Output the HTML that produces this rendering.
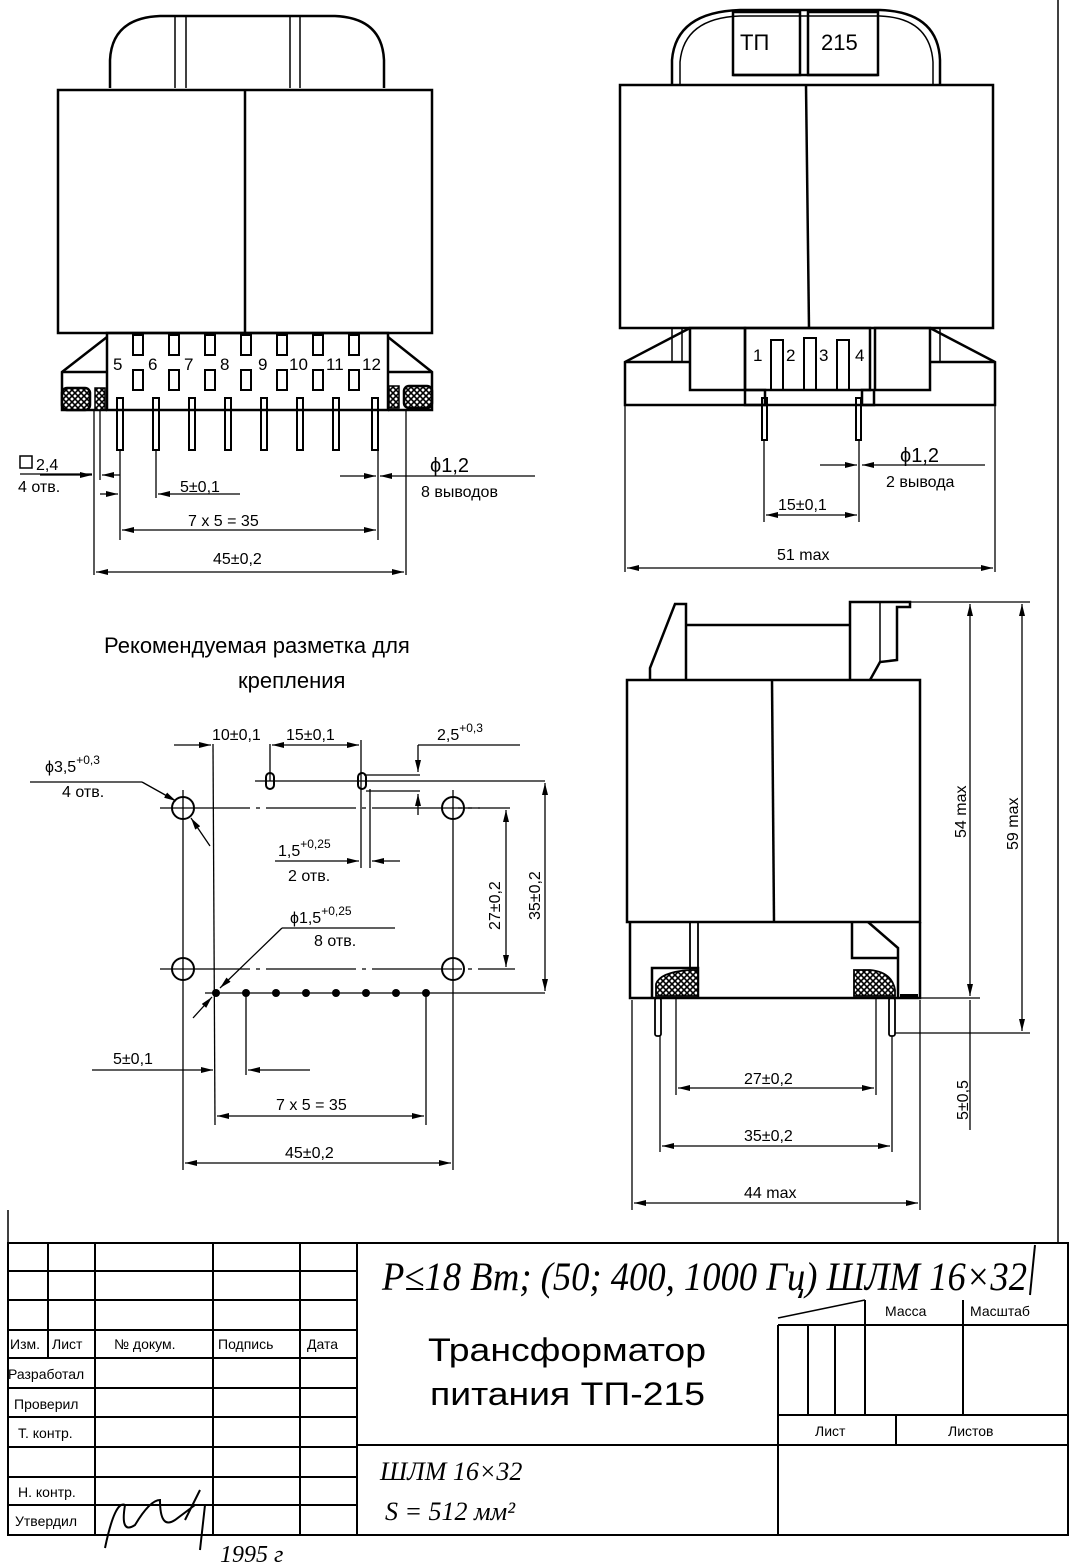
<!DOCTYPE html>
<html><head><meta charset="utf-8"><style>
html,body{margin:0;padding:0;background:#fff}
svg{display:block}
text{font-family:"Liberation Sans","DejaVu Sans",sans-serif;fill:#000}
.h{font-family:"Liberation Serif",serif;font-style:italic}
</style></head><body>
<svg width="1072" height="1568" viewBox="0 0 1072 1568" xmlns="http://www.w3.org/2000/svg">
<defs>
<marker id="a" viewBox="0 0 12 6" refX="12" refY="3" markerWidth="12" markerHeight="6" orient="auto-start-reverse" markerUnits="userSpaceOnUse"><path d="M0,0L12,3L0,6z" fill="#000"/></marker>
<pattern id="x" width="6" height="6" patternUnits="userSpaceOnUse"><rect width="6" height="6" fill="#fff"/><path d="M0,0L6,6M6,0L0,6" stroke="#000" stroke-width="1.6"/></pattern>
</defs>
<g fill="none" stroke="#000" stroke-width="2.5">
<line x1="1058" y1="0" x2="1058" y2="1243" stroke-width="1.5"/>
<line x1="8" y1="1210" x2="8" y2="1243" stroke-width="1.5"/>

<path d="M110,88 L110,60 Q112,18 160,16 L335,16 Q382,18 384,60 L384,88"/>
<line x1="175" y1="16" x2="175" y2="88" stroke-width="1.5"/><line x1="186" y1="16" x2="186" y2="88" stroke-width="1.5"/>
<line x1="290" y1="16" x2="290" y2="88" stroke-width="1.5"/><line x1="300" y1="16" x2="300" y2="88" stroke-width="1.5"/>
<rect x="58" y="90" width="374" height="243"/>
<line x1="245" y1="90" x2="245" y2="333"/>
<rect x="107" y="333" width="281" height="77"/>
<path d="M107,337 L62,372 L62,410 L107,410"/><line x1="62" y1="372" x2="107" y2="372"/>
<path d="M388,337 L432,372 L432,410 L388,410"/><line x1="388" y1="372" x2="432" y2="372"/>
<rect x="62" y="388" width="28" height="22" fill="url(#x)" rx="5"/>
<rect x="404" y="386" width="28" height="22" fill="url(#x)" rx="5"/>
<rect x="95" y="388" width="10" height="22" fill="url(#x)" stroke-width="1.5"/>
<rect x="389" y="386" width="10" height="22" fill="url(#x)" stroke-width="1.5"/>
<g stroke-width="2">
<rect x="133" y="335" width="10" height="20"/><rect x="169" y="335" width="10" height="20"/><rect x="205" y="335" width="10" height="20"/><rect x="241" y="335" width="10" height="20"/><rect x="277" y="335" width="10" height="20"/><rect x="313" y="335" width="10" height="20"/><rect x="349" y="335" width="10" height="20"/>
<rect x="133" y="370" width="10" height="20"/><rect x="169" y="370" width="10" height="20"/><rect x="205" y="370" width="10" height="20"/><rect x="241" y="370" width="10" height="20"/><rect x="277" y="370" width="10" height="20"/><rect x="313" y="370" width="10" height="20"/><rect x="349" y="370" width="10" height="20"/>
<rect x="117" y="398" width="6" height="52"/><rect x="153" y="398" width="6" height="52"/><rect x="189" y="398" width="6" height="52"/><rect x="225" y="398" width="6" height="52"/><rect x="261" y="398" width="6" height="52"/><rect x="297" y="398" width="6" height="52"/><rect x="333" y="398" width="6" height="52"/><rect x="372" y="398" width="6" height="52"/>
</g>
<g stroke-width="1.3">
<line x1="94" y1="410" x2="94" y2="575"/><line x1="100" y1="410" x2="100" y2="480"/>
<line x1="120" y1="450" x2="120" y2="540"/><line x1="156" y1="450" x2="156" y2="498"/>
<line x1="378" y1="450" x2="378" y2="540"/><line x1="406" y1="410" x2="406" y2="575"/>
<line x1="40" y1="475" x2="92" y2="475" marker-end="url(#a)"/><line x1="120" y1="475" x2="102" y2="475" marker-end="url(#a)"/>
<line x1="100" y1="494" x2="118" y2="494" marker-end="url(#a)"/><line x1="240" y1="494" x2="158" y2="494" marker-end="url(#a)"/>
<line x1="122" y1="530" x2="376" y2="530" marker-start="url(#a)" marker-end="url(#a)"/>
<line x1="96" y1="572" x2="404" y2="572" marker-start="url(#a)" marker-end="url(#a)"/>
<line x1="340" y1="476" x2="376" y2="476" marker-end="url(#a)"/><line x1="535" y1="476" x2="380" y2="476" marker-end="url(#a)"/>
<line x1="20" y1="474" x2="92" y2="474"/>
</g>

<path d="M672,85 L672,60 Q676,12 740,10 L880,10 Q938,12 940,60 L940,85"/>
<path d="M680,85 L680,62 Q684,18 740,16 L880,16 Q930,18 933,62 L933,85" stroke-width="1.5"/>
<rect x="733" y="12" width="67" height="63"/><rect x="808" y="12" width="70" height="63"/>
<line x1="733" y1="75" x2="878" y2="75"/>
<rect x="620" y="85" width="373" height="243"/>
<line x1="806" y1="85" x2="809" y2="328"/>
<path d="M690,328 L625,362 L625,405 L995,405 L995,362 L930,328"/>
<line x1="625" y1="362" x2="690" y2="362"/><line x1="930" y1="362" x2="995" y2="362"/>
<rect x="690" y="328" width="55" height="62"/><rect x="875" y="328" width="55" height="62"/>
<line x1="672" y1="328" x2="672" y2="362" stroke-width="1.5"/><line x1="682" y1="328" x2="682" y2="362" stroke-width="1.5"/>
<line x1="940" y1="328" x2="940" y2="362" stroke-width="1.5"/><line x1="930" y1="328" x2="930" y2="362" stroke-width="1.5"/>
<rect x="745" y="328" width="125" height="62"/>
<rect x="745" y="390" width="20" height="15"/><rect x="862" y="390" width="12" height="15"/>
<g stroke-width="2"><rect x="771" y="340" width="12" height="50"/><rect x="804" y="338" width="12" height="52"/><rect x="837" y="340" width="12" height="50"/>
<rect x="762" y="398" width="5" height="42"/><rect x="856" y="398" width="5" height="42"/></g>
<g stroke-width="1.3">
<line x1="764" y1="440" x2="764" y2="522"/><line x1="859" y1="440" x2="859" y2="522"/>
<line x1="766" y1="515" x2="857" y2="515" marker-start="url(#a)" marker-end="url(#a)"/>
<line x1="820" y1="465" x2="857" y2="465" marker-end="url(#a)"/><line x1="985" y1="465" x2="862" y2="465" marker-end="url(#a)"/>
<line x1="625" y1="405" x2="625" y2="572"/><line x1="995" y1="405" x2="995" y2="572"/>
<line x1="627" y1="568" x2="993" y2="568" marker-start="url(#a)" marker-end="url(#a)"/>
</g>

<path d="M650,680 L650,668 L675,604 L686,604 L686,680"/>
<path d="M686,625 L850,625"/>
<path d="M850,680 L850,602 L910,602 L910,607 L897,607 L897,660 L880,662 L870,680"/>
<line x1="880" y1="602" x2="880" y2="662" stroke-width="1.5"/>
<rect x="627" y="680" width="293" height="242"/>
<line x1="772" y1="680" x2="774" y2="922"/>
<path d="M630,922 L630,998 L920,998 L920,922"/>
<rect x="690" y="922" width="8" height="54" stroke-width="1.8"/>
<path d="M852,922 L852,958 L898,958 L898,998 M868,922 L898,948 L898,958"/>
<path d="M652,998 L652,968 L698,968 L698,998"/>
<path d="M656,996 L656,984 Q660,972 690,970 L698,970 L698,996 Z" fill="url(#x)" stroke-width="1.8"/>
<path d="M854,996 L854,970 L870,970 Q892,972 895,990 L895,996 Z" fill="url(#x)" stroke-width="1.8"/>
<line x1="900" y1="996" x2="918" y2="996" stroke-width="4"/>
<rect x="655" y="998" width="6" height="38" rx="2" stroke-width="1.8"/><rect x="889" y="998" width="6" height="38" rx="2" stroke-width="1.8"/>
<g stroke-width="1.3">
<line x1="910" y1="602" x2="1030" y2="602"/><line x1="920" y1="998" x2="980" y2="998"/><line x1="895" y1="1033" x2="1030" y2="1033"/>
<line x1="970" y1="604" x2="970" y2="996" marker-start="url(#a)" marker-end="url(#a)"/>
<line x1="1022" y1="604" x2="1022" y2="1031" marker-start="url(#a)" marker-end="url(#a)"/>
<line x1="970" y1="1000" x2="970" y2="1130"/>
<line x1="676" y1="998" x2="676" y2="1095"/><line x1="876" y1="998" x2="876" y2="1095"/>
<line x1="678" y1="1088" x2="874" y2="1088" marker-start="url(#a)" marker-end="url(#a)"/>
<line x1="660" y1="1036" x2="660" y2="1152"/><line x1="892" y1="1036" x2="892" y2="1152"/>
<line x1="662" y1="1146" x2="890" y2="1146" marker-start="url(#a)" marker-end="url(#a)"/>
<line x1="632" y1="1000" x2="632" y2="1210"/><line x1="920" y1="1000" x2="920" y2="1210"/>
<line x1="634" y1="1203" x2="918" y2="1203" marker-start="url(#a)" marker-end="url(#a)"/>
</g>

<g stroke-width="2"><circle cx="183" cy="808" r="11"/><circle cx="453" cy="808" r="11"/><circle cx="183" cy="969" r="11"/><circle cx="453" cy="969" r="11"/>
<rect x="266" y="773" width="8" height="16" rx="4"/><rect x="358" y="773" width="8" height="16" rx="4"/></g>
<g fill="#000" stroke="none"><circle cx="216" cy="993" r="4"/><circle cx="246" cy="993" r="4"/><circle cx="276" cy="993" r="4"/><circle cx="306" cy="993" r="4"/><circle cx="336" cy="993" r="4"/><circle cx="366" cy="993" r="4"/><circle cx="396" cy="993" r="4"/><circle cx="426" cy="993" r="4"/></g>
<g stroke-width="1.3">
<line x1="160" y1="808" x2="480" y2="808" stroke-dasharray="90,6,4,6"/>
<line x1="160" y1="969" x2="515" y2="969" stroke-dasharray="90,6,4,6"/>
<line x1="255" y1="781" x2="545" y2="781"/>
<line x1="205" y1="993" x2="545" y2="993"/>
<line x1="183" y1="790" x2="183" y2="1170"/><line x1="453" y1="790" x2="453" y2="1170"/>
<line x1="213" y1="744" x2="215" y2="1125"/><line x1="426" y1="993" x2="426" y2="1125"/>
<line x1="246" y1="993" x2="246" y2="1075"/>
<line x1="270" y1="744" x2="270" y2="781"/><line x1="361" y1="740" x2="361" y2="868"/><line x1="370" y1="789" x2="370" y2="868"/>
<line x1="174" y1="745" x2="211" y2="745" marker-end="url(#a)"/>
<line x1="272" y1="745" x2="359" y2="745" marker-start="url(#a)" marker-end="url(#a)"/>
<line x1="520" y1="745" x2="418" y2="745"/><line x1="418" y1="745" x2="418" y2="772" marker-end="url(#a)"/>
<line x1="364" y1="775" x2="420" y2="775"/><line x1="366" y1="791" x2="420" y2="791"/>
<line x1="418" y1="815" x2="418" y2="794" marker-end="url(#a)"/>
<line x1="275" y1="861" x2="359" y2="861" marker-end="url(#a)"/><line x1="400" y1="861" x2="372" y2="861" marker-end="url(#a)"/>
<line x1="30" y1="782" x2="142" y2="782"/><line x1="142" y1="782" x2="176" y2="801" marker-end="url(#a)"/>
<line x1="210" y1="846" x2="191" y2="818" marker-end="url(#a)"/>
<line x1="395" y1="928" x2="282" y2="928"/><line x1="282" y1="928" x2="220" y2="988" marker-end="url(#a)"/>
<line x1="193" y1="1018" x2="212" y2="997" marker-end="url(#a)"/>
<line x1="458" y1="808" x2="510" y2="808"/>
<line x1="506" y1="810" x2="506" y2="967" marker-start="url(#a)" marker-end="url(#a)"/>
<line x1="545" y1="783" x2="545" y2="991" marker-start="url(#a)" marker-end="url(#a)"/>
<line x1="92" y1="1070" x2="213" y2="1070" marker-end="url(#a)"/><line x1="310" y1="1070" x2="248" y2="1070" marker-end="url(#a)"/>
<line x1="217" y1="1116" x2="424" y2="1116" marker-start="url(#a)" marker-end="url(#a)"/>
<line x1="185" y1="1163" x2="451" y2="1163" marker-start="url(#a)" marker-end="url(#a)"/>
</g>

<g stroke-width="2">
<rect x="8" y="1243" width="1060" height="292"/>
<line x1="48" y1="1243" x2="48" y2="1358"/><line x1="95" y1="1243" x2="95" y2="1535"/>
<line x1="213" y1="1243" x2="213" y2="1535"/><line x1="300" y1="1243" x2="300" y2="1535"/><line x1="357" y1="1243" x2="357" y2="1535"/>
<line x1="8" y1="1271" x2="357" y2="1271"/><line x1="8" y1="1300" x2="357" y2="1300"/><line x1="8" y1="1330" x2="357" y2="1330"/>
<line x1="8" y1="1358" x2="357" y2="1358"/><line x1="8" y1="1388" x2="357" y2="1388"/><line x1="8" y1="1417" x2="357" y2="1417"/>
<line x1="8" y1="1447" x2="357" y2="1447"/><line x1="8" y1="1477" x2="357" y2="1477"/><line x1="8" y1="1505" x2="357" y2="1505"/>
<line x1="357" y1="1445" x2="1068" y2="1445"/>
<line x1="778" y1="1325" x2="778" y2="1535"/>
<line x1="778" y1="1325" x2="1068" y2="1325"/>
<line x1="778" y1="1415" x2="1068" y2="1415"/>
<line x1="808" y1="1325" x2="808" y2="1415"/><line x1="835" y1="1325" x2="835" y2="1415"/><line x1="865" y1="1300" x2="865" y2="1415"/><line x1="963" y1="1300" x2="963" y2="1415"/>
<line x1="896" y1="1415" x2="896" y2="1445"/>
<line x1="778" y1="1318" x2="865" y2="1300" stroke-width="1.5"/>
<line x1="1035" y1="1245" x2="1030" y2="1295" stroke-width="2"/>
</g>
<path d="M105,1548 Q115,1500 125,1505 Q120,1535 135,1525 Q150,1500 160,1500 Q160,1530 175,1520 L195,1505 M185,1520 L200,1490 M205,1505 L200,1550" stroke-width="2"/>
</g>

<g font-size="17">
<text x="113" y="370">5</text><text x="148" y="370">6</text><text x="184" y="370">7</text><text x="220" y="370">8</text><text x="258" y="370">9</text><text x="289" y="370">10</text><text x="326" y="370">11</text><text x="362" y="370">12</text>
<text x="753" y="361">1</text><text x="786" y="361">2</text><text x="819" y="361">3</text><text x="855" y="361">4</text>
</g>
<text x="740" y="50" font-size="22">ТП</text><text x="821" y="50" font-size="22">215</text>
<g font-size="16">
<text x="36" y="470">2,4</text><rect x="20" y="456" width="12" height="12" fill="none" stroke="#000" stroke-width="1.5"/>
<text x="18" y="492">4 отв.</text>
<text x="180" y="492">5±0,1</text>
<text x="188" y="526">7 x 5 = 35</text>
<text x="213" y="564">45±0,2</text>
<text x="430" y="472" font-size="20">ϕ1,2</text><text x="421" y="497">8 выводов</text>
<text x="778" y="510">15±0,1</text>
<text x="900" y="462" font-size="20">ϕ1,2</text><text x="886" y="487">2 вывода</text>
<text x="777" y="560">51 max</text>
<text x="744" y="1084">27±0,2</text>
<text x="744" y="1141">35±0,2</text>
<text x="744" y="1198">44 max</text>
<text transform="translate(966,838) rotate(-90)">54 max</text>
<text transform="translate(1018,850) rotate(-90)">59 max</text>
<text transform="translate(968,1120) rotate(-90)">5±0,5</text>
<text transform="translate(500,930) rotate(-90)">27±0,2</text>
<text transform="translate(540,920) rotate(-90)">35±0,2</text>
<text x="212" y="740">10±0,1</text><text x="286" y="740">15±0,1</text>
<text x="437" y="740">2,5<tspan dy="-8" font-size="12">+0,3</tspan></text>
<text x="45" y="772">ϕ3,5<tspan dy="-8" font-size="12">+0,3</tspan></text><text x="62" y="797">4 отв.</text>
<text x="278" y="856">1,5<tspan dy="-8" font-size="12">+0,25</tspan></text><text x="288" y="881">2 отв.</text>
<text x="290" y="923">ϕ1,5<tspan dy="-8" font-size="12">+0,25</tspan></text><text x="314" y="946">8 отв.</text>
<text x="113" y="1064">5±0,1</text>
<text x="276" y="1110">7 x 5 = 35</text>
<text x="285" y="1158">45±0,2</text>
</g>
<text x="104" y="653" font-size="22">Рекомендуемая разметка для</text>
<text x="238" y="688" font-size="22">крепления</text>
<g font-size="14">
<text x="10" y="1349">Изм.</text><text x="52" y="1349">Лист</text><text x="114" y="1349">№ докум.</text><text x="218" y="1349">Подпись</text><text x="307" y="1349">Дата</text>
<text x="8" y="1379">Разработал</text><text x="14" y="1409">Проверил</text><text x="18" y="1438">Т. контр.</text>
<text x="18" y="1497">Н. контр.</text><text x="15" y="1526">Утвердил</text>
<text x="885" y="1316">Масса</text><text x="970" y="1316">Масштаб</text>
<text x="815" y="1436">Лист</text><text x="948" y="1436">Листов</text>
</g>
<text x="428" y="1361" font-size="32" textLength="278" lengthAdjust="spacingAndGlyphs">Трансформатор</text>
<text x="430" y="1405" font-size="32" textLength="275" lengthAdjust="spacingAndGlyphs">питания ТП-215</text>
<text class="h" x="382" y="1290" font-size="40" textLength="645" lengthAdjust="spacingAndGlyphs">P≤18 Вт; (50; 400, 1000 Гц) ШЛМ 16×32</text>
<text class="h" x="380" y="1480" font-size="26">ШЛМ 16×32</text>
<text class="h" x="385" y="1520" font-size="26">S = 512 мм²</text>
<text class="h" x="220" y="1562" font-size="24">1995 г</text>
</svg>
</body></html>
